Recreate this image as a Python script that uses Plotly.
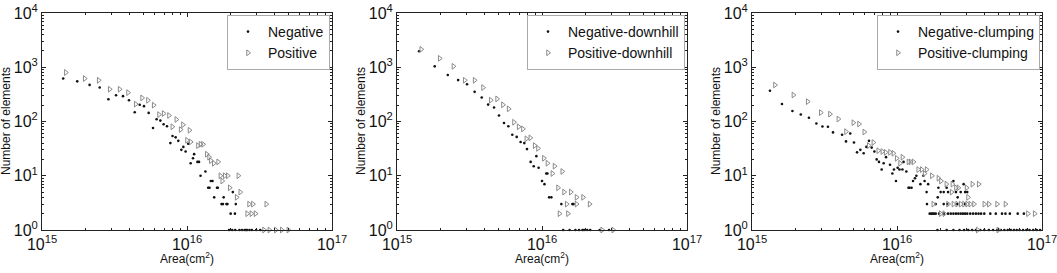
import plotly.graph_objects as go

# ---------------- data (area in cm^2, number of elements) ----------------
p1_neg_area = [1.40e15, 1.75e15, 2.13e15, 2.50e15, 2.87e15, 3.24e15, 3.62e15, 3.98e15, 4.36e15, 4.72e15,
               5.05e15, 5.44e15, 5.83e15, 6.17e15, 6.55e15, 6.90e15, 7.28e15, 7.68e15, 7.95e15, 8.35e15,
               8.71e15, 9.14e15, 9.44e15, 9.78e15, 1.02e16, 1.06e16, 1.10e16, 1.12e16, 1.18e16, 1.21e16,
               1.24e16, 1.34e16, 1.40e16, 1.43e16, 1.46e16, 1.50e16, 1.54e16, 1.61e16, 1.63e16, 1.73e16,
               1.77e16, 1.79e16, 1.87e16, 1.90e16, 2.00e16, 2.07e16, 2.14e16, 2.17e16,
               1.95e16, 2.05e16, 2.15e16, 2.30e16, 2.40e16, 2.50e16, 2.55e16, 2.60e16, 2.70e16, 2.80e16,
               3.00e16, 3.20e16]
p1_neg_count = [620, 550, 473, 423, 257, 305, 293, 246, 148, 203,
                192, 144, 76, 110, 104, 89, 82, 40, 54, 51,
                44, 30, 34, 28, 39, 17, 21, 25, 18, 18,
                10, 12, 6, 6, 8, 8, 4, 6, 6, 3,
                3, 4, 3, 3, 2, 5, 2, 3,
                1, 1, 1, 1, 1, 1, 1, 1, 1, 1,
                1, 1]
p1_pos_area = [1.46e15, 1.97e15, 2.46e15, 2.93e15, 3.43e15, 3.92e15, 4.43e15, 4.90e15, 5.38e15, 5.89e15,
               6.41e15, 6.90e15, 7.51e15, 7.92e15, 8.44e15, 9.04e15, 9.38e15, 1.00e16, 1.04e16, 1.06e16,
               1.19e16, 1.24e16, 1.29e16, 1.37e16, 1.42e16, 1.46e16, 1.53e16, 1.64e16, 1.70e16, 1.75e16,
               1.82e16, 1.91e16, 1.97e16, 2.20e16, 2.26e16, 2.33e16, 2.68e16, 2.85e16, 3.52e16, 2.60e16,
               2.78e16, 2.97e16, 3.40e16, 3.70e16, 4.10e16, 4.50e16, 5.00e16]
p1_pos_count = [800, 620, 575, 393, 393, 340, 209, 272, 246, 200,
                134, 140, 129, 80, 109, 71, 87, 45, 69, 42,
                36, 38, 38, 25, 22, 19, 17, 18, 10, 8,
                10, 10, 6, 4, 10, 5, 3, 3, 3, 2,
                2, 2, 1, 1, 1, 1, 1]

p2_neg_area = [1.42e15, 1.82e15, 2.24e15, 2.64e15, 3.04e15, 3.43e15, 3.84e15, 4.25e15, 4.67e15, 5.05e15,
               5.47e15, 5.86e15, 6.24e15, 6.69e15, 7.12e15, 7.55e15, 7.88e15, 8.35e15, 8.77e15, 9.14e15,
               9.48e15, 1.00e16, 1.04e16, 1.07e16, 1.09e16, 1.12e16, 1.16e16, 1.36e16, 1.62e16, 1.65e16,
               1.40e16, 1.55e16, 1.70e16, 1.80e16, 1.90e16, 1.95e16, 2.05e16, 2.15e16, 2.50e16, 2.90e16]
p2_neg_count = [1970, 1040, 720, 580, 487, 352, 277, 205, 181, 129,
                94, 82, 57, 52, 42, 40, 31, 18, 15, 23,
                14, 8, 7, 11, 11, 4, 4, 3, 3, 3,
                1, 1, 1, 1, 1, 1, 1, 1, 1, 1]
p2_pos_area = [1.47e15, 1.97e15, 2.45e15, 2.93e15, 3.43e15, 3.92e15, 4.43e15, 4.90e15, 5.38e15, 5.89e15,
               6.41e15, 6.90e15, 7.39e15, 7.80e15, 8.31e15, 8.90e15, 9.38e15, 1.03e16, 1.09e16, 1.18e16,
               1.22e16, 1.29e16, 1.38e16, 1.42e16, 1.58e16, 1.73e16, 1.92e16, 1.48e16, 1.73e16, 2.13e16,
               1.32e16, 1.51e16, 2.60e16, 3.10e16]
p2_pos_count = [2140, 1460, 1040, 575, 575, 422, 247, 261, 203, 171,
                97, 80, 73, 48, 50, 36, 32, 21, 17, 11,
                15, 6, 12, 5, 5, 4, 4, 3, 3, 3,
                2, 2, 1, 1]

p3_neg_area = [1.33e15, 1.61e15, 1.90e15, 2.17e15, 2.47e15, 2.78e15, 3.06e15, 3.34e15, 3.62e15, 4.18e15,
               4.45e15, 4.76e15, 5.05e15, 5.30e15, 5.59e15, 5.89e15, 6.15e15, 6.41e15, 6.69e15, 6.98e15,
               7.24e15, 7.51e15, 7.84e15, 8.09e15, 8.40e15, 8.95e15, 9.29e15, 9.53e15, 9.84e15, 1.01e16,
               1.04e16, 1.09e16, 1.11e16, 1.16e16, 1.20e16, 1.22e16, 1.26e16, 1.29e16, 1.33e16, 1.36e16,
               1.45e16, 1.52e16, 1.55e16, 1.60e16, 1.64e16, 1.91e16, 1.93e16, 2.00e16, 2.10e16, 2.20e16,
               2.25e16, 2.45e16, 2.55e16, 2.62e16, 2.75e16, 2.88e16, 2.95e16, 3.05e16,
               1.61e16, 1.85e16, 2.10e16, 2.22e16, 2.60e16, 2.95e16,
               1.68e16, 1.72e16, 1.76e16, 1.80e16, 1.85e16, 1.95e16, 2.10e16, 2.25e16, 2.35e16, 2.45e16,
               2.55e16, 2.65e16, 2.75e16, 2.85e16, 2.95e16, 3.05e16, 3.20e16, 3.35e16, 3.50e16, 3.65e16,
               3.80e16, 4.00e16, 4.40e16, 4.80e16, 5.30e16, 5.60e16, 6.00e16, 6.80e16, 7.50e16,
               1.90e16, 2.20e16, 2.45e16, 2.70e16, 2.90e16, 3.10e16, 3.30e16, 3.50e16, 3.75e16, 4.00e16,
               4.30e16, 4.60e16, 4.90e16, 5.20e16, 5.50e16, 5.80e16, 6.10e16, 6.40e16, 6.70e16, 7.00e16,
               7.40e16, 7.80e16, 8.20e16, 8.70e16, 9.20e16, 9.70e16]
p3_neg_count = [370, 210, 156, 135, 117, 92, 81, 80, 63, 57,
                43, 60, 41, 27, 30, 26, 34, 44, 33, 28,
                20, 18, 13, 17, 22, 16, 11, 13, 8, 14,
                13, 13, 18, 12, 6, 6, 6, 8, 9, 10,
                7, 10, 8, 5, 7, 4, 6, 5, 5, 6,
                5, 8, 5, 4, 5, 7, 5, 5,
                3, 3, 3, 3, 3, 3,
                2, 2, 2, 2, 2, 2, 2, 2, 2, 2,
                2, 2, 2, 2, 2, 2, 2, 2, 2, 2,
                2, 2, 2, 2, 2, 2, 2, 2, 2,
                1, 1, 1, 1, 1, 1, 1, 1, 1, 1,
                1, 1, 1, 1, 1, 1, 1, 1, 1, 1,
                1, 1, 1, 1, 1, 1]
p3_pos_area = [1.44e15, 1.93e15, 2.42e15, 2.98e15, 3.45e15, 3.94e15, 4.45e15, 5.00e15, 5.47e15, 5.95e15,
               6.38e15, 6.87e15, 7.43e15, 7.92e15, 8.35e15, 8.95e15, 9.44e15, 9.95e15, 1.05e16, 1.09e16,
               1.20e16, 1.24e16, 1.30e16, 1.40e16, 1.48e16, 1.60e16, 1.55e16, 1.74e16, 1.93e16, 2.01e16,
               2.19e16, 2.41e16, 2.55e16, 2.65e16, 3.02e16, 3.31e16, 3.66e16, 2.38e16, 3.09e16,
               1.78e16, 2.25e16, 2.45e16, 2.60e16, 2.75e16, 2.90e16, 3.05e16, 3.20e16, 3.40e16, 4.00e16,
               4.30e16, 4.90e16, 5.60e16,
               2.00e16, 2.12e16, 8.00e16, 8.90e16,
               3.60e16, 5.00e16]
p3_pos_count = [471, 308, 232, 146, 137, 111, 65, 95, 90, 64,
                36, 41, 29, 28, 27, 27, 26, 21, 17, 22,
                18, 18, 18, 13, 13, 13, 11, 10, 9, 8,
                7, 7, 6, 6, 6, 7, 7, 5, 4,
                3, 3, 3, 3, 3, 3, 3, 3, 3, 3,
                3, 3, 3,
                2, 2, 2, 2,
                1, 1]

panels = [
    ("Negative", p1_neg_area, p1_neg_count, "Positive", p1_pos_area, p1_pos_count),
    ("Negative-downhill", p2_neg_area, p2_neg_count, "Positive-downhill", p2_pos_area, p2_pos_count),
    ("Negative-clumping", p3_neg_area, p3_neg_count, "Positive-clumping", p3_pos_area, p3_pos_count),
]

x_ticks = [1e15, 1e16, 1e17]
x_ticktext = ["10<sup>15</sup>", "10<sup>16</sup>", "10<sup>17</sup>"]
y_ticks = [1, 10, 100, 1000, 10000]
y_ticktext = ["10<sup>0</sup>", "10<sup>1</sup>", "10<sup>2</sup>", "10<sup>3</sup>", "10<sup>4</sup>"]

# ---------------- layout geometry ----------------
W, H = 1057, 273
lefts = [42, 397, 752]
pw = 290
top_px, bot_px = 13, 230
FONT = "Arial, Liberation Sans, Helvetica, sans-serif"

fig = go.Figure()
layout = dict(
    template="none",
    width=W, height=H, margin=dict(l=0, r=0, t=0, b=0, autoexpand=False),
    paper_bgcolor="white", plot_bgcolor="white",
    font=dict(family=FONT, color="#111111"),
    annotations=[],
)

for i, (nn, na, nc, pn, pa, pc) in enumerate(panels):
    k = "" if i == 0 else str(i + 1)
    xa, ya = "x" + k, "y" + k
    lg = "legend" + k
    fig.add_trace(go.Scatter(
        x=na, y=nc, mode="markers", name=nn, xaxis=xa, yaxis=ya, legend=lg,
        cliponaxis=False,
        marker=dict(symbol="circle", size=2.6, color="#111111", line=dict(width=0)),
    ))
    fig.add_trace(go.Scatter(
        x=pa, y=pc, mode="markers", name=pn, xaxis=xa, yaxis=ya, legend=lg,
        cliponaxis=False,
        marker=dict(symbol="triangle-right-open", size=5, color="#8a8a8a", line=dict(width=1)),
    ))
    x0 = lefts[i] / W
    x1 = (lefts[i] + pw) / W
    y0 = 1 - bot_px / H
    y1 = 1 - top_px / H
    axis_common = dict(
        type="log", showgrid=False, zeroline=False, showline=True, linecolor="#222222",
        linewidth=1, mirror="ticks", ticks="inside", ticklen=4, tickcolor="#222222",
        automargin=False, ticklabeloverflow="allow",
        tickfont=dict(size=16, family=FONT, color="#111111"),
        minor=dict(ticks="inside", ticklen=2, dtick="D1", tickcolor="#222222", showgrid=False),
    )
    layout["xaxis" + k] = dict(
        axis_common, domain=[x0, x1], range=[15, 17], anchor=ya,
        tickvals=x_ticks, ticktext=x_ticktext,
    )
    layout["yaxis" + k] = dict(
        axis_common, domain=[y0, y1], range=[0, 4], anchor=xa,
        tickvals=y_ticks, ticktext=y_ticktext,
    )
    layout[lg] = dict(
        x=(lefts[i] + pw - 2) / W, xanchor="right",
        y=1 - 15 / H, yanchor="top",
        bgcolor="white", bordercolor="#aaaaaa", borderwidth=1,
        font=dict(size=14, family=FONT, color="#111111"),
        tracegroupgap=0, itemwidth=30,
    )
    layout["annotations"].append(dict(
        text="Number of elements", textangle=-90, showarrow=False,
        xref="paper", yref="paper", x=(lefts[i] - 36) / W, y=1 - 121 / H,
        xanchor="center", yanchor="middle", font=dict(size=12, family=FONT, color="#111111"),
    ))
    layout["annotations"].append(dict(
        text="Area(cm<sup>2</sup>)", showarrow=False,
        xref="paper", yref="paper", x=(lefts[i] + pw / 2) / W, y=1 - 258 / H,
        xanchor="center", yanchor="middle", font=dict(size=12, family=FONT, color="#111111"),
    ))

fig.update_layout(**layout)
fig.write_html(
    "out.html",
    config={"displayModeBar": False},
    post_script="document.body.style.margin='0';document.body.style.padding='0';document.body.style.overflow='hidden';",
)
